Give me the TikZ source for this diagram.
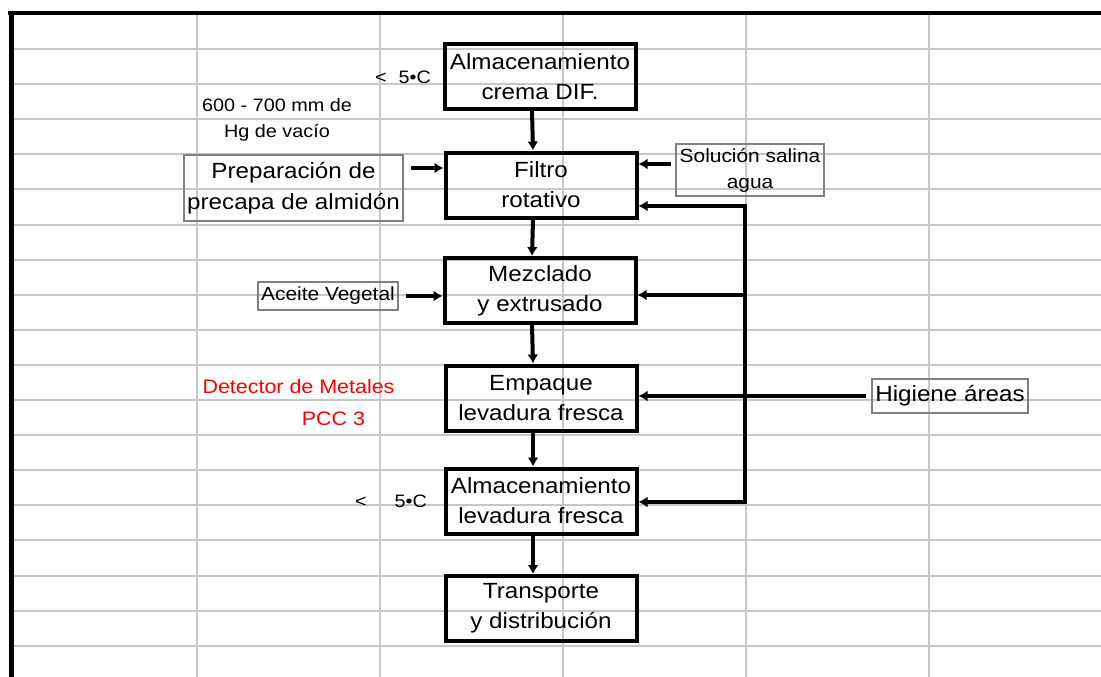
\documentclass[tikz,border=0pt]{standalone}
\usepackage{fontspec}
\setmainfont{Liberation Sans}[FakeStretch=1.1]
\usetikzlibrary{arrows.meta}

\tikzset{
  paso/.style={draw, line width=4pt, minimum width=191pt, minimum height=65pt,
    align=center, inner sep=0pt, font=\fontsize{22}{30}\selectfont},
  aporte/.style={draw=black!50, line width=1.5pt, align=center, inner sep=1pt},
  flujo/.style={line width=4pt, -{Latex[length=9pt,width=11pt]}},
  linea/.style={line width=4pt, line cap=rect},
  celda/.style={black!22, line width=2pt},
}

\begin{document}
\begin{tikzpicture}[x=1pt,y=-1pt]
\useasboundingbox (0,0) rectangle (1101,677);
% hoja de calculo
\foreach \k in {0,...,17} \draw[celda] (11,49+35.1*\k) -- (1101,49+35.1*\k);
\foreach \c in {197,380,563,746,929} \draw[celda] (\c,13) -- (\c,677);
\draw[line width=4pt] (8,13) -- (1101,13);
\draw[line width=5pt] (11,11) -- (11,677);

% etapas del proceso
\node[paso] (alm) at (540,76.5) {Almacenamiento\\crema DIF.};
\node[paso] (filtro) at (541,185) {Filtro\\rotativo};
\node[paso] (mez) at (540,290.5) {Mezclado\\y extrusado};
\node[paso] (emp) at (541,398) {Empaque\\levadura fresca};
\node[paso] (almlev) at (541,501) {Almacenamiento\\levadura fresca};
\node[paso] (trans) at (541,608.5) {Transporte\\y distribución};

% entradas
\node[aporte, minimum width=219pt, minimum height=66pt, font=\fontsize{22}{31}\selectfont] (prep) at (293.5,188) {Preparación de\\precapa de almidón};
\node[aporte, minimum width=148pt, minimum height=52pt, font=\fontsize{19}{26}\selectfont] (sol) at (750,170) {Solución salina\\agua};
\node[aporte, minimum width=140pt, minimum height=28pt, font=\fontsize{19}{22}\selectfont] (aceite) at (328,296) {Aceite Vegetal};
\node[aporte, minimum width=156pt, minimum height=34pt, font=\fontsize{22}{26}\selectfont] (hig) at (950,396) {Higiene áreas};

% notas
\node[align=center, font=\fontsize{18}{26}\selectfont] (vacio) at (277,120) {600 - 700 mm de\\Hg de vacío};
\node[font=\fontsize{18}{22}\selectfont] (temp1) at (403,77) {<\hspace{12pt}5•C};
\node[font=\fontsize{18}{22}\selectfont] (temp2) at (391,501) {<\hspace{28pt}5•C};
\node[text=red, font=\fontsize{19.5}{22}\selectfont] (detector) at (298.5,387) {Detector de Metales};
\node[text=red, font=\fontsize{19.5}{22}\selectfont] (pcc) at (333.5,419) {PCC 3};

% flujo principal
\draw[flujo] ([xshift=-8pt]alm.south) -- ([xshift=-8pt]filtro.north);
\draw[flujo] ([xshift=-8pt]filtro.south) -- ([xshift=-8pt]mez.north);
\draw[flujo] ([xshift=-8pt]mez.south) -- ([xshift=-8pt]emp.north);
\draw[flujo] ([xshift=-8pt]emp.south) -- ([xshift=-8pt]almlev.north);
\draw[flujo] ([xshift=-8pt]almlev.south) -- ([xshift=-8pt]trans.north);

% entradas laterales
\draw[flujo] ([xshift=7pt,yshift=20pt]prep.east) -- ([yshift=20pt]prep.east -| filtro.west);
\draw[flujo] ([xshift=-4pt,yshift=6pt]sol.west) -- ([yshift=6pt]sol.west -| filtro.east);
\draw[flujo] ([xshift=7pt]aceite.east) -- (aceite.east -| mez.west);

% retorno de higiene
\coordinate (r1) at (745,206);
\coordinate (r2) at (745,295);
\coordinate (r3) at (745,502);
\draw[linea] (r1) -- (r3);
\draw[flujo] (r1) -- (r1 -| filtro.east);
\draw[flujo] (r2) -- (r2 -| mez.east);
\draw[flujo] (r3) -- (r3 -| almlev.east);
\draw[flujo] ([xshift=-5pt]hig.west) -- (hig.west -| emp.east);
\end{tikzpicture}
\end{document}
